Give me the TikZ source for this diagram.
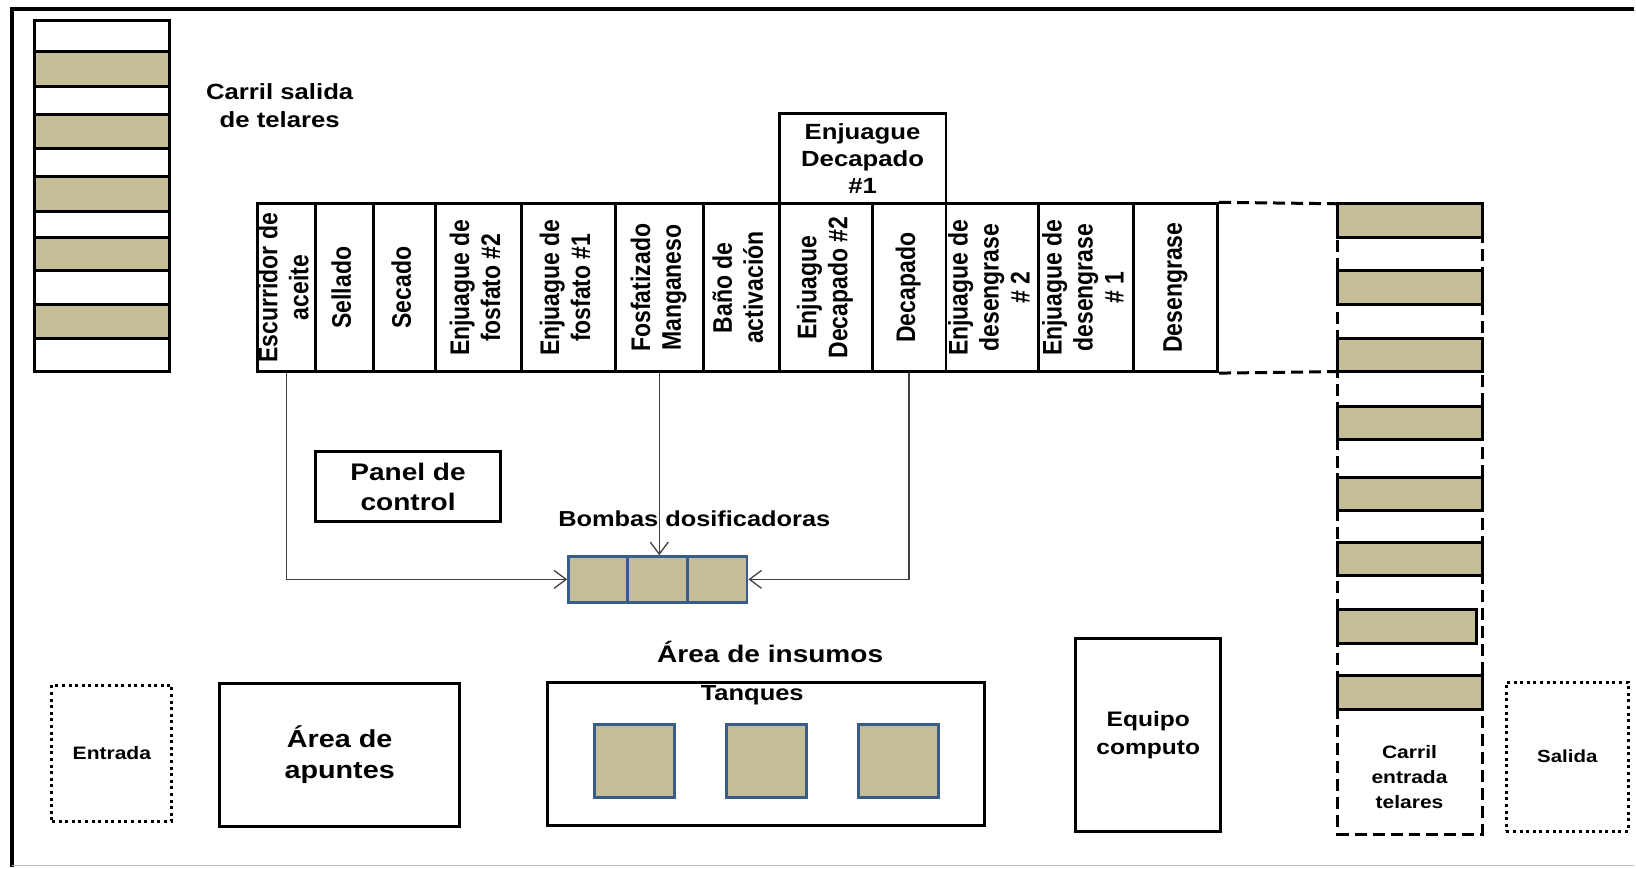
\documentclass[tikz,border=0pt]{standalone}
\usepackage{graphicx}
\usepackage{fontspec}
\setmainfont{Liberation Sans}[FakeStretch=1.17]
\newfontfamily\vfont{Liberation Sans}
\usetikzlibrary{arrows.meta}

\definecolor{khaki}{HTML}{C4BD97}
\definecolor{pumpblue}{HTML}{385D8A}

\newcommand{\setfs}[2]{\fontsize{#1}{#2}\selectfont\bfseries}
\newcommand{\vlab}[1]{\rotatebox{90}{\scalebox{1}[1.17]{\vfont\bfseries\fontsize{23}{26.5}\selectfont
  \begin{tabular}{@{}c@{}}#1\end{tabular}}}}

\tikzset{
  box/.style={draw, line width=3pt, inner sep=0pt},
  cell/.style={box, minimum height=168},
  lane/.style={draw, line width=3pt, dash pattern=on 12pt off 6pt},
  door/.style={draw, line width=3pt, dash pattern=on 3pt off 3.6pt, inner sep=0pt},
  pump/.style={draw=pumpblue, fill=khaki, line width=2.5pt, minimum width=60, minimum height=46, inner sep=0pt},
  tank/.style={draw=pumpblue, fill=khaki, line width=3pt, minimum width=80, minimum height=73, inner sep=0pt},
  arr/.style={->, line width=1.3pt, draw=black!75},
}

\begin{document}
\begin{tikzpicture}[x=1pt,y=-1pt,>={Straight Barb[length=12pt,width=18pt]}]
    \fill[white] (0,0) rectangle (1636,868);
    % marco
    \draw[line width=3.5pt] (1636,9) -- (12,9) -- (12,868);
    \draw[black!25, line width=1pt] (12,866) -- (1636,866);

    % carril de salida
    \draw[line width=3pt] (35,21) rectangle (170,372);
    \filldraw[fill=khaki, line width=3pt] (35,52) rectangle (170,87) (35,115) rectangle (170,149)
        (35,177) rectangle (170,212) (35,238) rectangle (170,271) (35,305) rectangle (170,339);
    \node[align=center, font={\setfs{22}{28}}] (cs) at (280,106) {Carril salida\\de telares};

    % linea de tratamiento
    \node[cell, minimum width=58, label=center:{\vlab{Escurridor de\\aceite}}] (c1) at (287,288) {};
    \node[cell, minimum width=58, label=center:{\vlab{Sellado}}] (c2) at (345,288) {};
    \node[cell, minimum width=62, label=center:{\vlab{Secado}}] (c3) at (405,288) {};
    \node[cell, minimum width=86, label=center:{\vlab{Enjuague de\\fosfato \#2}}] (c4) at (479,288) {};
    \node[cell, minimum width=94, label=center:{\vlab{Enjuague de\\fosfato \#1}}] (c5) at (569,288) {};
    \node[cell, minimum width=88, label=center:{\vlab{Fosfatizado\\Manganeso}}] (c6) at (660,288) {};
    \node[cell, minimum width=76, label=center:{\vlab{Baño de\\activación}}] (c7) at (742,288) {};
    \node[cell, minimum width=93, label=center:{\vlab{Enjuague\\Decapado \#2}}] (c8) at (826.5,288) {};
    \node[cell, minimum width=74, label=center:{\vlab{Decapado}}] (c9) at (910,288) {};
    \node[cell, minimum width=93, label=center:{\vlab{Enjuague de\\desengrase\\\# 2}}] (c10) at (993.5,288) {};
    \node[cell, minimum width=95, label=center:{\vlab{Enjuague de\\desengrase\\\# 1}}] (c11) at (1087.5,288) {};
    \node[cell, minimum width=84, label=center:{\vlab{Desengrase}}] (c12) at (1177,288) {};
    \node[box, minimum width=167, minimum height=90, align=center, font={\setfs{22}{27}}] (tb) at (863.5,159) {Enjuague\\Decapado\\\#1};
    \draw[lane] (c12.north east) -- (1339,204);
    \draw[lane] (c12.south east) -- (1339,372);

    % carril de entrada
    \draw[lane] (1339,204) rectangle (1484,835);
    \filldraw[fill=khaki, line width=3pt] (1339,204) rectangle (1484,238) (1339,271) rectangle (1484,305)
        (1339,339) rectangle (1484,372) (1339,407) rectangle (1484,440) (1339,478) rectangle (1484,511)
        (1339,543) rectangle (1484,576) (1339,610) rectangle (1478,644) (1339,676) rectangle (1484,710);
    \node[align=center, font={\setfs{18}{25}}] (ce) at (1411,778) {Carril\\entrada\\telares};

    % puertas
    \node[door, minimum width=120, minimum height=136, font={\setfs{18}{22}}] (entrada) at (112,754) {Entrada};
    \node[door, minimum width=122, minimum height=149, font={\setfs{17.5}{22}}] (salida) at (1569,757.5) {Salida};

    \node[box, minimum width=185, minimum height=70, align=center, font={\setfs{24}{30}}] (panel) at (408.5,487) {Panel de\\control};

    % bombas
    \node[font={\setfs{21.7}{26}}] (bombas) at (695,519) {Bombas dosificadoras};
    \node[pump] (b1) at (599,580) {};
    \node[pump] (b2) at (658,580) {};
    \node[pump] (b3) at (718,580) {};
    \draw[arr] (c1.south) |- (b1.west);
    \draw[arr] (c6.south) -- (c6.south |- b2.north);
    \draw[arr] (c9.south) |- (b3.east);

    % insumos
    \node[font={\setfs{24}{28}}] (insumos) at (771,653) {Área de insumos};
    \node[box, minimum width=438, minimum height=143] (tanques) at (767,754.5) {};
    \node[font={\setfs{21.8}{26}}] (tq) at (753,696) {Tanques};
    \node[tank] (t1) at (635,761.5) {};
    \node[tank] (t2) at (767,761.5) {};
    \node[tank] (t3) at (899,761.5) {};

    \node[box, minimum width=240, minimum height=143, align=center, font={\setfs{24.6}{31}}] (apuntes) at (340,755.5) {Área de\\apuntes};
    \node[box, minimum width=145, minimum height=193, align=center, font={\setfs{21}{28}}] (equipo) at (1149.5,735.5) {Equipo\\computo};
\end{tikzpicture}
\end{document}
